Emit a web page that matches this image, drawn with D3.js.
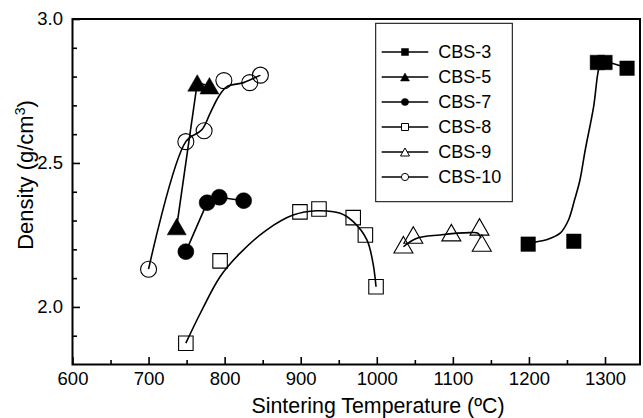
<!DOCTYPE html>
<html>
<head>
<meta charset="utf-8">
<script src="https://cdn.jsdelivr.net/npm/d3@7"></script>
<style>
  html, body { margin: 0; padding: 0; background: #fff; }
  svg { display: block; }
  text { font-family: "Liberation Sans", Arial, Helvetica, sans-serif; fill: #000; }
</style>
</head>
<body>
<svg id="chart" width="643" height="418"></svg>
<script>
// ---------- data ----------
const xTickValues = [600, 700, 800, 900, 1000, 1100, 1200, 1300];
const xMinorValues = [650, 750, 850, 950, 1050, 1150, 1250];
const yTickValues = [2.0, 2.5, 3.0];
const yMinorValues = [1.9, 2.1, 2.2, 2.3, 2.4, 2.6, 2.7, 2.8, 2.9];

const seriesNames = ["CBS-3", "CBS-5", "CBS-7", "CBS-8", "CBS-9", "CBS-10"];

// measured points
const cbs3X = [1199, 1259, 1290, 1300, 1329];
const cbs3Y = [2.218, 2.228, 2.849, 2.849, 2.829];
const cbs5X = [737, 764, 780];
const cbs5Y = [2.279, 2.778, 2.768];
const cbs7X = [749, 777, 793, 825];
const cbs7Y = [2.192, 2.362, 2.381, 2.369];
const cbs8X = [749, 794, 899, 924, 969, 985, 999];
const cbs8Y = [1.874, 2.160, 2.330, 2.340, 2.310, 2.250, 2.070];
const cbs9X = [1035, 1048, 1098, 1135, 1138];
const cbs9Y = [2.216, 2.250, 2.258, 2.278, 2.222];
const cbs10X = [700, 749, 773, 799, 833, 847];
const cbs10Y = [2.131, 2.574, 2.612, 2.786, 2.779, 2.805];

// drawn (fitted) curves
const cbs3FitX = [1200, 1208, 1223, 1241, 1252, 1260, 1267, 1274, 1285, 1292, 1296, 1329];
const cbs3FitY = [2.218, 2.225, 2.233, 2.256, 2.302, 2.372, 2.44, 2.545, 2.695, 2.829, 2.849, 2.829];
const cbs5FitX = [737, 764, 780];
const cbs5FitY = [2.279, 2.778, 2.768];
const cbs7FitX = [749, 777, 793, 825];
const cbs7FitY = [2.192, 2.362, 2.381, 2.369];
const cbs8FitX = [749, 768, 794, 820, 855, 890, 921, 952, 969, 987, 995, 999];
const cbs8FitY = [1.874, 1.978, 2.105, 2.186, 2.267, 2.319, 2.334, 2.325, 2.296, 2.233, 2.152, 2.070];
const cbs9FitX = [1035, 1052, 1083, 1122, 1133, 1137];
const cbs9FitY = [2.209, 2.238, 2.250, 2.258, 2.256, 2.239];
const cbs10FitX = [700, 749, 770, 781, 792, 803, 825, 847];
const cbs10FitY = [2.131, 2.574, 2.615, 2.673, 2.730, 2.765, 2.779, 2.805];

// ---------- build ----------
const zip = (xs, ys) => xs.map((v, i) => [v, ys[i]]);
const series = [
  { name: seriesNames[0], pts: zip(cbs3X, cbs3Y), fit: zip(cbs3FitX, cbs3FitY), shape: "square", filled: true, smooth: true },
  { name: seriesNames[1], pts: zip(cbs5X, cbs5Y), fit: zip(cbs5FitX, cbs5FitY), shape: "triangle", filled: true, smooth: false },
  { name: seriesNames[2], pts: zip(cbs7X, cbs7Y), fit: zip(cbs7FitX, cbs7FitY), shape: "circle", filled: true, smooth: false },
  { name: seriesNames[3], pts: zip(cbs8X, cbs8Y), fit: zip(cbs8FitX, cbs8FitY), shape: "square", filled: false, smooth: true },
  { name: seriesNames[4], pts: zip(cbs9X, cbs9Y), fit: zip(cbs9FitX, cbs9FitY), shape: "triangle", filled: false, smooth: true },
  { name: seriesNames[5], pts: zip(cbs10X, cbs10Y), fit: zip(cbs10FitX, cbs10FitY), shape: "circle", filled: false, smooth: true }
];

const L = 72.5, R = 640, T = 19, B = 364.5;
const svg = d3.select("#chart");
const x = d3.scaleLinear().domain([600, 1346]).range([L, R]);
const y = d3.scaleLinear().domain([1.8, 3.0]).range([B, T]);

// marker path generator (bbox-centred)
function markerPath(shape, big) {
  if (shape === "square") {
    const s = big ? 14.5 : 7;
    return `M${-s/2},${-s/2}H${s/2}V${s/2}H${-s/2}Z`;
  }
  if (shape === "triangle") {
    const w = big ? 19 : 9, h = big ? 16.5 : 8;
    return `M0,${-h/2}L${w/2},${h/2}L${-w/2},${h/2}Z`;
  }
  const r = big ? 8 : 3.6;
  return `M${r},0A${r},${r} 0 1,1 ${-r},0A${r},${r} 0 1,1 ${r},0Z`;
}

// axes (ticks inward)
const tickFont = 18.5;
const xAxis = d3.axisBottom(x).tickValues(xTickValues).tickFormat(d3.format("d"))
  .tickSizeInner(-7.5).tickSizeOuter(0).tickPadding(7.5);
const gx = svg.append("g").attr("transform", `translate(0,${B})`).call(xAxis);
const xMinor = d3.axisBottom(x).tickValues(xMinorValues).tickFormat("").tickSizeInner(-4.5).tickSizeOuter(0);
const gxm = svg.append("g").attr("transform", `translate(0,${B})`).call(xMinor);

const yAxis = d3.axisLeft(y).tickValues(yTickValues).tickFormat(d3.format(".1f"))
  .tickSizeInner(-7.5).tickSizeOuter(0).tickPadding(9.5);
const gy = svg.append("g").attr("transform", `translate(${L},0)`).call(yAxis);
const yMinor = d3.axisLeft(y).tickValues(yMinorValues).tickFormat("").tickSizeInner(-4.5).tickSizeOuter(0);
const gym = svg.append("g").attr("transform", `translate(${L},0)`).call(yMinor);

[gx, gxm, gy, gym].forEach(g => {
  g.select(".domain").remove();
  g.selectAll(".tick line").attr("stroke", "#000").attr("stroke-width", 1.6);
  g.selectAll(".tick text").attr("font-size", tickFont)
    .attr("font-family", "'Liberation Sans', Arial, sans-serif").attr("fill", "#000");
});

// frame
svg.append("rect").attr("x", L).attr("y", T).attr("width", R - L).attr("height", B - T)
  .attr("fill", "none").attr("stroke", "#000").attr("stroke-width", 2);

// data markers
const plot = svg.append("g");
series.forEach(s => {
  plot.append("g").selectAll("path").data(s.pts).join("path")
    .attr("transform", d => `translate(${x(d[0])},${y(d[1])})`)
    .attr("d", markerPath(s.shape, true))
    .attr("fill", s.filled ? "#000" : "none")
    .attr("stroke", "#000")
    .attr("stroke-width", s.filled ? 0.5 : 1.1);
});
// curves
series.forEach(s => {
  const line = d3.line().x(d => x(d[0])).y(d => y(d[1]))
    .curve(s.smooth ? d3.curveCatmullRom.alpha(0.5) : d3.curveLinear);
  plot.append("path").datum(s.fit).attr("d", line)
    .attr("fill", "none").attr("stroke", "#000").attr("stroke-width", 1.6);
});

// legend
const lg = svg.append("g");
lg.append("rect").attr("x", 375.7).attr("y", 23.3).attr("width", 136.6).attr("height", 178.4)
  .attr("fill", "#fff").attr("stroke", "#000").attr("stroke-width", 1);
series.forEach((s, i) => {
  const cy = 52 + i * 25;
  lg.append("line").attr("x1", 381.7).attr("x2", 428.3).attr("y1", cy).attr("y2", cy)
    .attr("stroke", "#000").attr("stroke-width", 1.6);
  lg.append("path").attr("transform", `translate(405,${cy})`).attr("d", markerPath(s.shape, false))
    .attr("fill", s.filled ? "#000" : "#fff").attr("stroke", "#000").attr("stroke-width", s.filled ? 0.5 : 1);
  lg.append("text").attr("x", 438.3).attr("y", cy).attr("dy", "0.36em")
    .attr("font-size", 18).text(s.name);
});

// axis titles
svg.append("text").attr("x", 378).attr("y", 413).attr("text-anchor", "middle")
  .attr("font-size", 22).attr("textLength", 253).attr("lengthAdjust", "spacingAndGlyphs")
  .text("Sintering Temperature (ºC)");

const yt = svg.append("text").attr("transform", "translate(33,175) rotate(-90)")
  .attr("text-anchor", "middle").attr("font-size", 22);
yt.append("tspan").text("Density (g/cm");
yt.append("tspan").attr("font-size", 14).attr("dy", -8).text("3");
yt.append("tspan").attr("dy", 8).text(")");
</script>
</body>
</html>
